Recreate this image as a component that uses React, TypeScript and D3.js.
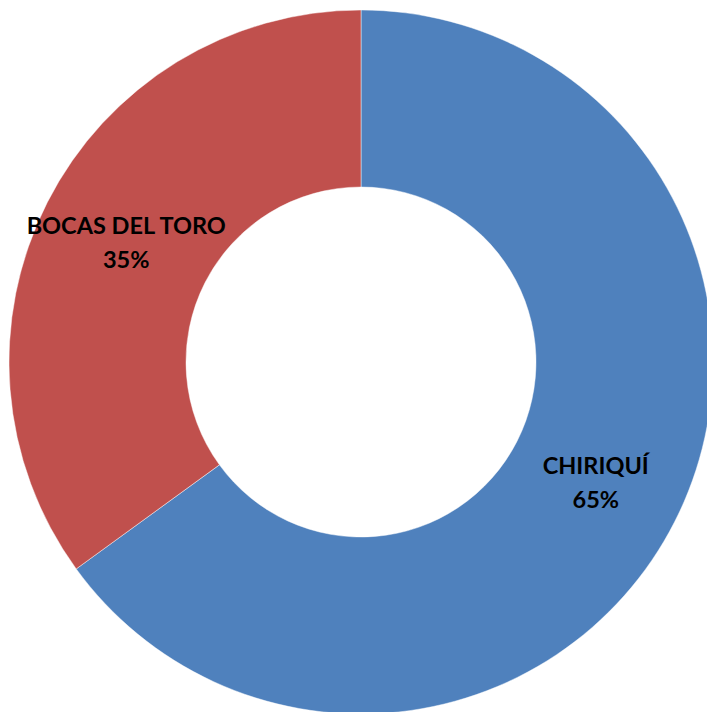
import React from "react";
import * as d3 from "d3";

const categories = ["CHIRIQUÍ", "BOCAS DEL TORO"];
const values = [65, 35];
const colors = ["#4F81BD", "#C0504D"];

const W = 707;
const H = 712;
const cx = 361;
const cy = 362;
const outerR = 352;
const innerR = 175;

export default function App() {
  const pie = d3.pie<number>().sort(null).value((d) => d);
  const arcs = pie(values);
  const arc = d3.arc<d3.PieArcDatum<number>>().innerRadius(innerR).outerRadius(outerR);
  const total = d3.sum(values);
  return (
    <svg
      width={W}
      height={H}
      style={{ position: "absolute", left: 0, top: 0, background: "#fff" }}
    >
      <g transform={`translate(${cx},${cy})`}>
        {arcs.map((a, i) => (
          <path key={i} d={arc(a) || ""} fill={colors[i]} stroke="#fff" strokeWidth={0.75} strokeOpacity={0.6} />
        ))}
        {arcs.map((a, i) => {
          const [x, y] = arc.centroid(a);
          return (
            <text
              key={"t" + i}
              x={x}
              textAnchor="middle"
              fontFamily="Lato, 'Open Sans', sans-serif"
              fontWeight="bold"
              fontSize={23.5}
              fill="#000"
            >
              <tspan x={x} y={y - 8}>{categories[i]}</tspan>
              <tspan x={x} y={y + 26}>{Math.round((values[i] / total) * 100)}%</tspan>
            </text>
          );
        })}
      </g>
    </svg>
  );
}
